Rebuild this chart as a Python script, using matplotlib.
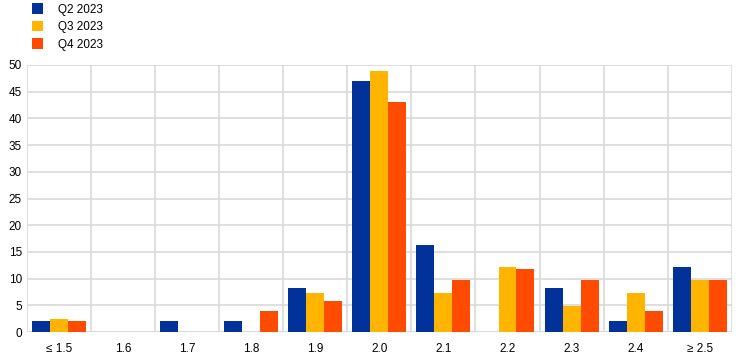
import numpy as np
import matplotlib
matplotlib.use("Agg")
import matplotlib.pyplot as plt

# === data ===
categories = ["≤ 1.5", "1.6", "1.7", "1.8", "1.9", "2.0", "2.1", "2.2", "2.3", "2.4", "≥ 2.5"]
q2_2023 = [2.0, 0.0, 2.0, 2.0, 8.2, 47.0, 16.3, 0.0, 8.2, 2.0, 12.2]
q3_2023 = [2.4, 0.0, 0.0, 0.0, 7.3, 48.8, 7.3, 12.2, 4.9, 7.3, 9.8]
q4_2023 = [2.0, 0.0, 0.0, 3.9, 5.9, 43.1, 9.8, 11.8, 9.8, 3.9, 9.8]
series_labels = ["Q2 2023", "Q3 2023", "Q4 2023"]
colors = ["#003299", "#FFB400", "#FF4B00"]

plt.rcParams["font.family"] = ["Liberation Sans", "DejaVu Sans"]

fig = plt.figure(figsize=(7.43, 3.61), dpi=100)
ax = fig.add_axes([0.036, 0.080, 0.949, 0.740])

x = np.arange(len(categories))
w = 0.28
for i, (vals, lab, c) in enumerate(zip([q2_2023, q3_2023, q4_2023], series_labels, colors)):
    ax.bar(x + (i - 1) * w, vals, width=w, color=c, label=lab, zorder=3)

ax.set_xlim(-0.5, len(categories) - 0.5)
ax.set_ylim(0, 50)
ax.set_yticks(range(0, 51, 5))
ax.set_xticks(x)
ax.set_xticklabels(categories)
ax.tick_params(axis="both", length=0, labelsize=8.5, colors="black")
ax.tick_params(axis="x", pad=8)

# grid
for k in range(len(categories) + 1):
    ax.axvline(k - 0.5, color="#d9d9d9", lw=1.2, zorder=1)
ax.yaxis.grid(True, color="#d9d9d9", lw=1.2, zorder=1)
ax.set_axisbelow(True)
for s in ax.spines.values():
    s.set_visible(False)
ax.axhline(0, color="#d9d9d9", lw=1.2, zorder=2)

fig.legend(loc="upper left", bbox_to_anchor=(0.033, 1.01), frameon=False,
           fontsize=8.5, handlelength=0.95, handleheight=0.95, labelspacing=0.45,
           handletextpad=1.3, borderaxespad=0.2)

fig.savefig("out.png", dpi=100)
